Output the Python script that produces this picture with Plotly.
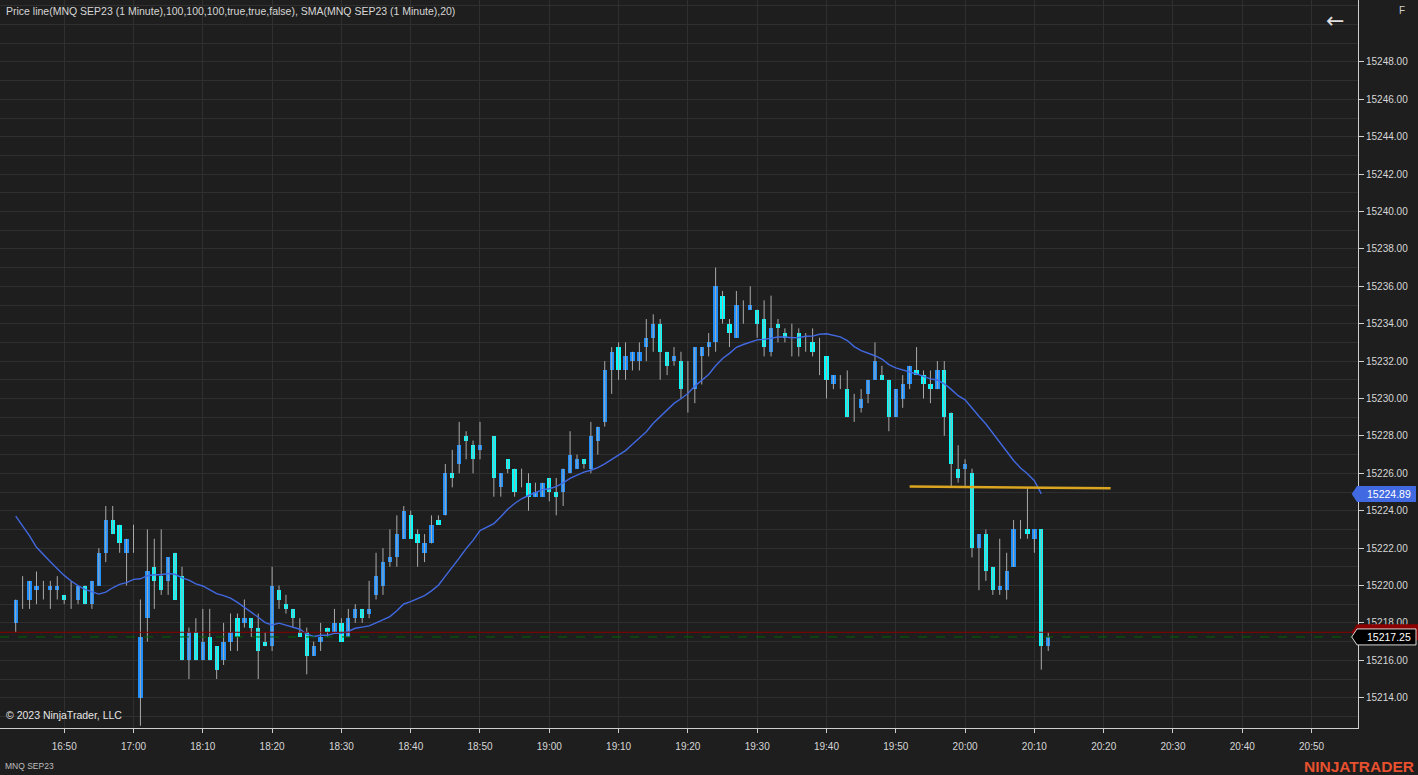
import plotly.graph_objects as go
import pandas as pd

# ---------------- data ----------------
time_labels = ["16:50", "17:00", "18:10", "18:20", "18:30", "18:40", "18:50", "19:00",
               "19:10", "19:20", "19:30", "19:40", "19:50", "20:00", "20:10", "20:20",
               "20:30", "20:40", "20:50"]
label_bar_index = [7, 17, 27, 37, 47, 57, 67, 77, 87, 97, 107, 117, 127, 137, 147, 157, 167, 177, 187]

price_labels = [15214, 15216, 15218, 15220, 15222, 15224, 15226, 15228, 15230, 15232, 15234,
                15236, 15238, 15240, 15242, 15244, 15246, 15248]

bar_index = list(range(0, 68)) + list(range(69, 150))

opens = [15218.0, 15219.75, 15219.25, 15219.75, 15219.75, 15219.75, 15219.75, 15219.5, 15219.75, 15219.25,
         15220.0, 15219.0, 15220.0, 15221.75, 15223.5, 15223.25, 15221.75, 15222.5, 15214.0, 15218.25,
         15221.0, 15220.5, 15220.25, 15221.75, 15220.5, 15216.0, 15217.5, 15216.0, 15217.25, 15216.75,
         15216.0, 15217.0, 15218.25, 15218.0, 15218.25, 15217.75, 15217.0, 15216.75, 15219.75, 15219.0,
         15218.75, 15217.5, 15217.5, 15216.25, 15217.0, 15217.75, 15217.5, 15218.0, 15217.25, 15218.25,
         15218.75, 15218.5, 15219.5, 15220.0, 15221.25, 15221.5, 15222.5, 15223.75, 15222.75, 15221.75,
         15222.25, 15223.5, 15223.75, 15226.0, 15226.5, 15228.0, 15227.5, 15227.25,
         15228.0, 15225.25, 15226.75, 15226.25, 15225.5, 15225.5, 15224.75, 15224.75, 15225.75, 15225.0,
         15225.0, 15226.0, 15226.25, 15226.75, 15226.25, 15227.75, 15228.75, 15231.5, 15232.75, 15231.5,
         15232.0, 15232.0, 15232.75, 15233.25, 15234.0, 15232.5, 15232.0, 15232.0, 15230.5, 15230.5,
         15232.25, 15232.75, 15233.0, 15235.5, 15234.0, 15233.25, 15234.5, 15234.75, 15234.75, 15234.25,
         15232.5, 15234.0, 15233.5, 15233.25, 15233.5, 15233.0, 15233.0, 15232.5, 15232.25, 15230.75,
         15231.0, 15230.5, 15229.5, 15229.5, 15230.25, 15231.0, 15231.25, 15231.0, 15229.0, 15230.0,
         15230.75, 15231.5, 15231.25, 15230.75, 15230.5, 15231.5, 15229.25, 15226.25, 15226.25, 15226.0,
         15222.0, 15222.75, 15221.0, 15219.75, 15219.75, 15221.0, 15223.0, 15223.0, 15222.5, 15223.0,
         15216.75]
highs = [15219.25, 15220.5, 15220.25, 15220.75, 15220.25, 15220.25, 15220.5, 15219.5, 15220.25, 15220.0,
         15220.0, 15220.25, 15222.0, 15224.25, 15224.25, 15223.25, 15222.5, 15223.25, 15219.25, 15223.0,
         15222.5, 15223.0, 15221.5, 15221.75, 15221.0, 15217.75, 15218.25, 15218.75, 15218.75, 15216.75,
         15218.0, 15218.5, 15218.5, 15219.25, 15218.25, 15218.5, 15217.5, 15221.0, 15220.0, 15219.5,
         15218.75, 15218.25, 15217.75, 15217.0, 15218.0, 15217.75, 15218.75, 15218.25, 15218.75, 15219.0,
         15218.75, 15220.25, 15221.75, 15222.0, 15223.0, 15223.75, 15224.25, 15224.0, 15223.0, 15222.75,
         15223.75, 15223.75, 15226.5, 15227.25, 15228.75, 15228.25, 15227.75, 15228.75,
         15228.0, 15226.0, 15226.75, 15226.25, 15226.25, 15226.0, 15225.5, 15225.5, 15225.75, 15225.75,
         15226.25, 15228.25, 15227.0, 15226.75, 15228.75, 15228.5, 15232.0, 15232.75, 15233.0, 15233.0,
         15232.5, 15233.0, 15234.25, 15234.5, 15234.25, 15232.5, 15232.75, 15232.5, 15232.0, 15232.75,
         15232.75, 15233.5, 15237.0, 15235.75, 15234.25, 15235.75, 15235.25, 15236.0, 15234.75, 15235.25,
         15235.5, 15234.25, 15233.75, 15234.0, 15233.75, 15233.5, 15233.75, 15233.25, 15232.25, 15231.25,
         15231.25, 15231.5, 15230.25, 15230.5, 15231.0, 15233.0, 15231.75, 15231.0, 15230.5, 15231.25,
         15231.75, 15232.75, 15231.5, 15231.5, 15232.0, 15232.0, 15229.25, 15227.5, 15226.75, 15226.25,
         15222.75, 15223.0, 15221.0, 15222.5, 15221.75, 15223.5, 15223.5, 15225.25, 15223.0, 15223.0,
         15217.5]
lows = [15217.5, 15218.75, 15218.75, 15219.0, 15219.25, 15218.75, 15219.25, 15219.0, 15218.75, 15219.0,
        15219.0, 15218.75, 15220.0, 15221.25, 15222.75, 15221.75, 15220.0, 15221.75, 15212.5, 15217.0,
        15218.75, 15219.5, 15219.5, 15219.25, 15216.0, 15215.0, 15216.0, 15216.0, 15216.0, 15215.0,
        15215.75, 15216.5, 15216.5, 15217.75, 15217.25, 15215.0, 15216.75, 15216.5, 15218.75, 15218.5,
        15217.75, 15217.25, 15215.25, 15216.25, 15216.5, 15217.25, 15217.5, 15217.0, 15217.25, 15218.0,
        15218.0, 15218.25, 15219.25, 15219.5, 15221.0, 15221.0, 15222.5, 15222.5, 15221.0, 15221.25,
        15222.25, 15223.25, 15223.75, 15225.25, 15226.0, 15226.75, 15226.0, 15226.75,
        15224.75, 15224.75, 15226.0, 15224.75, 15225.25, 15224.0, 15224.75, 15224.75, 15224.5, 15223.75,
        15224.25, 15226.0, 15226.25, 15226.25, 15226.0, 15227.0, 15228.5, 15230.25, 15231.0, 15231.0,
        15231.5, 15231.5, 15232.0, 15232.5, 15231.0, 15231.25, 15231.75, 15230.0, 15229.25, 15229.75,
        15230.75, 15232.25, 15232.5, 15234.0, 15232.75, 15233.25, 15234.0, 15234.75, 15233.25, 15232.25,
        15232.25, 15233.0, 15233.0, 15232.25, 15232.25, 15232.5, 15232.25, 15231.25, 15230.0, 15230.5,
        15230.5, 15229.0, 15228.75, 15229.25, 15229.75, 15231.0, 15231.0, 15228.25, 15229.0, 15229.5,
        15230.5, 15231.25, 15230.0, 15229.75, 15230.5, 15228.0, 15225.25, 15225.5, 15225.25, 15221.5,
        15219.75, 15220.25, 15219.5, 15219.5, 15219.25, 15221.0, 15222.5, 15222.5, 15221.75, 15215.5,
        15216.5]
closes = [15219.25, 15219.75, 15220.25, 15220.0, 15219.75, 15220.0, 15220.0, 15219.25, 15219.75, 15220.0,
          15219.0, 15220.25, 15221.75, 15223.5, 15222.75, 15222.25, 15222.5, 15222.5, 15217.25, 15220.75,
          15220.25, 15219.75, 15221.5, 15219.25, 15216.0, 15217.5, 15216.0, 15217.0, 15216.0, 15215.5,
          15217.0, 15217.5, 15217.25, 15218.25, 15217.75, 15216.5, 15216.75, 15220.0, 15219.25, 15218.75,
          15218.25, 15217.25, 15216.25, 15216.75, 15217.25, 15217.5, 15218.0, 15217.0, 15218.25, 15218.75,
          15218.25, 15218.75, 15220.5, 15221.25, 15221.5, 15222.75, 15224.0, 15222.5, 15222.25, 15222.25,
          15223.25, 15223.25, 15226.0, 15225.75, 15227.5, 15227.75, 15226.75, 15227.5,
          15225.75, 15226.0, 15226.25, 15225.0, 15225.5, 15224.75, 15225.0, 15225.5, 15225.0, 15224.75,
          15226.25, 15227.0, 15226.75, 15226.5, 15228.0, 15228.5, 15231.5, 15232.5, 15231.5, 15232.25,
          15232.5, 15232.5, 15233.25, 15234.0, 15232.5, 15231.75, 15232.25, 15230.5, 15230.5, 15232.75,
          15232.75, 15233.0, 15236.0, 15234.25, 15233.5, 15235.0, 15234.5, 15235.0, 15234.0, 15232.75,
          15233.75, 15233.75, 15233.25, 15233.25, 15232.75, 15233.0, 15232.5, 15232.5, 15231.0, 15231.25,
          15231.0, 15229.0, 15229.5, 15230.0, 15231.0, 15232.0, 15231.0, 15229.0, 15230.5, 15230.75,
          15231.75, 15231.25, 15230.75, 15230.5, 15231.5, 15229.0, 15226.5, 15225.75, 15226.5, 15222.0,
          15222.75, 15220.75, 15219.75, 15220.0, 15220.75, 15223.0, 15223.0, 15222.75, 15223.0, 15216.75,
          15217.25]

# SMA(20) values for the first 19 bars (their earlier inputs are off-screen)
sma_lead = [15223.71, 15223.18, 15222.65, 15222.04, 15221.63, 15221.27, 15220.90, 15220.54, 15220.24,
            15219.99, 15219.79, 15219.65, 15219.54, 15219.65, 15219.88, 15220.06, 15220.15, 15220.33,
            15220.36]
sma_period = 20

# horizontal drawing line (bar index, price)
draw_line_bars = [129, 158]
draw_line_prices = [15225.3, 15225.2]

ask_price = 15217.5
last_price = 15217.25
sma_marker_value = 15224.89

title_text = "Price line(MNQ SEP23 (1 Minute),100,100,100,true,true,false), SMA(MNQ SEP23 (1 Minute),20)"

# ---------------- styling / layout ----------------
W, H = 1418, 775
PLOT_R = 1358
PLOT_B = 728
y_lo, y_hi = 15212.38, 15251.31
x_lo, x_hi = -2.265, 193.7
PTS_PER_PX = (y_hi - y_lo) / PLOT_B

BG = "#1e1e1e"
GRID = "#2f2f2f"
TXT = "#d6d6d6"
UP = "#1E90FF"
DOWN = "#00FFFF"
WICK = "#a9a9a9"
FONT = "Liberation Sans, Arial, sans-serif"


def px_x(px):
    return px / PLOT_R


def px_y(py):
    return (PLOT_B - py) / PLOT_B


# SMA: read values for the first bars, rolling mean of the closes afterwards; last plotted bar is the previous closed bar
roll = pd.Series(closes).rolling(sma_period).mean().tolist()
sma_vals = sma_lead + roll[len(sma_lead):]
sma_x = bar_index[:-1]
sma_y = sma_vals[:-1]

# wicks
wx, wy = [], []
for i, h, l in zip(bar_index, highs, lows):
    wx += [i, i, None]
    wy += [l, h, None]

body_base = [min(o, c) for o, c in zip(opens, closes)]
body_h = [abs(c - o) for o, c in zip(opens, closes)]
body_col = [UP if c > o else DOWN for o, c in zip(opens, closes)]

fig = go.Figure()
fig.add_trace(go.Scatter(x=wx, y=wy, mode="lines", line=dict(color=WICK, width=1),
                         hoverinfo="skip", showlegend=False))
fig.add_trace(go.Bar(x=bar_index, y=body_h, base=body_base, width=0.62,
                     marker=dict(color=body_col, line=dict(width=0)), showlegend=False))
fig.add_trace(go.Scatter(x=sma_x, y=sma_y, mode="lines", line=dict(color="#4169E1", width=1.4),
                         showlegend=False))
fig.add_trace(go.Scatter(x=draw_line_bars, y=draw_line_prices, mode="lines",
                         line=dict(color="#DAA520", width=2.5), showlegend=False))

shapes = []
# ask / last price lines
shapes.append(dict(type="line", xref="paper", yref="y", x0=0, x1=1, y0=ask_price, y1=ask_price,
                   line=dict(color="#8B0000", width=1), layer="above"))
shapes.append(dict(type="line", xref="paper", yref="y", x0=0, x1=1, y0=last_price, y1=last_price,
                   line=dict(color="#006400", width=1, dash="dash"), layer="above"))


def tab_path(center, fill, line_color, line_w, x_tip=1351.7, x_corner=1357.0, x_right=1416.0, half=8.0):
    top = center + half * PTS_PER_PX
    bot = center - half * PTS_PER_PX
    p = (f"M {px_x(x_tip)},{center} L {px_x(x_corner)},{top} L {px_x(x_right)},{top} "
         f"L {px_x(x_right)},{bot} L {px_x(x_corner)},{bot} Z")
    return dict(type="path", xref="paper", yref="y", path=p, fillcolor=fill,
                line=dict(color=line_color, width=line_w), layer="above")


shapes.append(tab_path(sma_marker_value, "#4169E1", "#4169E1", 0))
shapes.append(tab_path(ask_price, "#8B0000", "#8B0000", 0, x_right=1418))
shapes.append(tab_path(last_price, "#000000", "#d8d8d8", 1))

annotations = [
    dict(text=title_text, xref="paper", yref="paper", x=px_x(4), y=px_y(11), xanchor="left",
         yanchor="middle", showarrow=False, font=dict(family=FONT, size=10.5, color=TXT)),
    dict(text="© 2023 NinjaTrader, LLC", xref="paper", yref="paper", x=px_x(4), y=px_y(715),
         xanchor="left", yanchor="middle", showarrow=False, font=dict(family=FONT, size=10.5, color="#e6e6e6")),
    dict(text="MNQ SEP23", xref="paper", yref="paper", x=px_x(3), y=px_y(766), xanchor="left",
         yanchor="middle", showarrow=False, font=dict(family=FONT, size=8.5, color="#bdbdbd")),
    dict(text="<b>NINJATRADER</b>", xref="paper", yref="paper", x=px_x(1416), y=px_y(766),
         xanchor="right", yanchor="middle", showarrow=False, font=dict(family=FONT, size=15.5, color="#E8502E")),
    dict(text=f"{sma_marker_value:.2f}", xref="paper", yref="y", x=px_x(1389), y=sma_marker_value,
         xanchor="center", yanchor="middle", showarrow=False, font=dict(family=FONT, size=10.5, color="#ffffff")),
    dict(text=f"{last_price:.2f}", xref="paper", yref="y", x=px_x(1389), y=last_price,
         xanchor="center", yanchor="middle", showarrow=False, font=dict(family=FONT, size=10.5, color="#ffffff")),
    dict(text="←", xref="paper", yref="paper", x=px_x(1335), y=px_y(20), xanchor="center",
         yanchor="middle", showarrow=False, font=dict(family="DejaVu Sans", size=22, color="#e0e0e0")),
    dict(text="F", xref="paper", yref="paper", x=px_x(1402), y=px_y(11), xanchor="center",
         yanchor="middle", showarrow=False, font=dict(family=FONT, size=10, color="#d0d0d0")),
]

fig.update_layout(
    width=W, height=H,
    margin=dict(l=0, r=W - PLOT_R, t=0, b=H - PLOT_B),
    paper_bgcolor=BG, plot_bgcolor=BG,
    barmode="overlay", bargap=0,
    shapes=shapes, annotations=annotations,
    showlegend=False,
    hovermode=False,
    xaxis=dict(range=[x_lo, x_hi], tickmode="array", tickvals=label_bar_index, ticktext=time_labels,
               showgrid=True, gridcolor=GRID, gridwidth=1, zeroline=False,
               showline=True, linecolor="#cfcfcf", linewidth=1,
               ticks="outside", ticklen=4, tickcolor="#cfcfcf", ticklabelstandoff=5,
               tickfont=dict(family=FONT, size=10, color=TXT), fixedrange=True),
    yaxis=dict(range=[y_lo, y_hi], side="right", tickmode="array", tickvals=price_labels,
               tickformat=".2f",
               showgrid=True, gridcolor=GRID, gridwidth=1, zeroline=False,
               minor=dict(tickmode="linear", dtick=1, tick0=15200, showgrid=True, gridcolor=GRID, gridwidth=1),
               showline=True, linecolor="#cfcfcf", linewidth=1,
               ticks="outside", ticklen=5, tickcolor="#cfcfcf",
               tickfont=dict(family=FONT, size=10, color=TXT), fixedrange=True),
)

fig.write_html("out.html", config={"displayModeBar": False},
               post_script="document.body.style.margin='0';document.body.style.background='#1e1e1e';")
